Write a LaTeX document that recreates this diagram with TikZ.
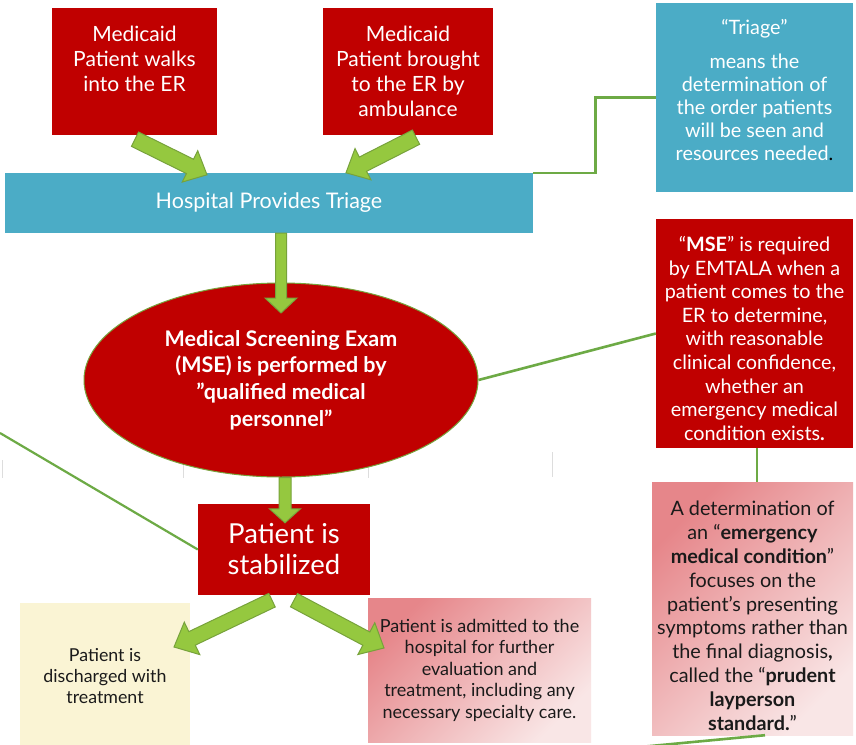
\documentclass[tikz,border=0pt]{standalone}
\usepackage{fontspec}
\setmainfont{Lato}
\usetikzlibrary{calc,shapes.geometric}
\definecolor{cred}{HTML}{C00000}
\definecolor{cblue}{HTML}{4BACC6}
\definecolor{afill}{HTML}{95C83F}
\definecolor{aline}{HTML}{77A23B}
\definecolor{cline}{HTML}{6DAA45}
\definecolor{cyel}{HTML}{FAF4D4}
\definecolor{pinkA}{HTML}{E6868A}
\definecolor{pinkB}{HTML}{F9E6E6}
\definecolor{tickc}{HTML}{DDDDDD}
\definecolor{dtext}{HTML}{1A1A1A}
\newcommand\fatarrow[5]{%
  \coordinate (fa-a) at #1;
  \coordinate (fa-b) at #2;
  \coordinate (fa-h) at ($(fa-b)!#5!(fa-a)$);
  \filldraw[arrowsty] ($(fa-a)!#3!90:(fa-b)$) -- ($(fa-h)!#3!-90:(fa-a)$) -- ($(fa-h)!#4!-90:(fa-a)$) -- (fa-b) -- ($(fa-h)!#4!90:(fa-a)$) -- ($(fa-h)!#3!90:(fa-a)$) -- ($(fa-a)!#3!-90:(fa-b)$) -- cycle;
}
\begin{document}
\begin{tikzpicture}[x=1pt,y=-1pt,
  redbox/.style={fill=cred,text=white,align=center,inner sep=0pt},
  bluebox/.style={fill=cblue,text=white,align=center,inner sep=0pt},
  arrowsty/.style={fill=afill,draw=aline,line width=1pt,line join=miter},
  conn/.style={draw=cline,line width=2.6pt},
  tickline/.style={draw=tickc,line width=0.8pt},
  darktext/.style={text=dtext,align=center,inner sep=0pt}]
\useasboundingbox (0,0) rectangle (856,744);
\fill[white] (0,0) rectangle (856,744);

% faint table ticks
\draw[tickline] (2,460) -- (2,478);
\draw[tickline] (183,460) -- (183,478);
\draw[tickline] (368,462) -- (368,478);
\draw[tickline] (552,452) -- (552,477);

% nodes
\node[redbox,minimum width=165pt,minimum height=127pt,font=\fontsize{21}{25}\selectfont] (w1) at (134.5,71.5)
  {Medicaid\\Patient walks\\into the ER\\\mbox{}};
\node[redbox,minimum width=170pt,minimum height=127pt,font=\fontsize{21}{25}\selectfont] (w2) at (408,71.5)
  {Medicaid\\Patient brought\\to the ER by\\ambulance};
\node[bluebox,minimum width=528pt,minimum height=60pt,font=\fontsize{21.5}{25}\selectfont] (tri) at (269,203)
  {Hospital Provides Triage};
\node[bluebox,minimum width=197pt,minimum height=189pt,font=\fontsize{19.8}{23}\selectfont] (tdef) at (754.5,97.5)
  {“Triage”\\[11pt]means the\\determination of\\the order patients\\will be seen and\\resources needed\textcolor{black}{.}\rule[-16pt]{0pt}{0pt}};
\node[ellipse,fill=cred,draw=aline,line width=1pt,text=white,align=center,inner sep=0pt,
  minimum width=394pt,minimum height=194pt,font=\fontsize{21.5}{26.7}\selectfont\bfseries] (mse) at (281,380)
  {Medical Screening Exam\\(MSE) is performed by\\”qualified medical\\personnel”};
\node[redbox,minimum width=197pt,minimum height=229pt,font=\fontsize{19.8}{23.6}\selectfont] (msebox) at (754.5,333.5)
  {\rule{0pt}{25pt}“\textbf{MSE}” is required\\by EMTALA when a\\patient comes to the\\ER to determine,\\with reasonable\\clinical confidence,\\whether an\\emergency medical\\condition exists\textbf{.}};
\node[redbox,minimum width=172pt,minimum height=91pt,font=\fontsize{27.5}{31}\selectfont] (stab) at (284,549.5)
  {Patient is\\stabilized};
\node[darktext,fill=cyel,minimum width=170pt,minimum height=147pt,font=\fontsize{17.8}{21}\selectfont] (dis) at (105,676.5)
  {Patient is\\discharged with\\treatment};
\node[darktext,top color=pinkA,bottom color=pinkB,shading angle=45,minimum width=223pt,minimum height=144pt,font=\fontsize{18}{21.5}\selectfont] (adm) at (479.5,670)
  {Patient is admitted to the\\hospital for further\\evaluation and\\treatment, including any\\necessary specialty care.};
\node[darktext,top color=pinkA,bottom color=pinkB,shading angle=45,minimum width=201pt,minimum height=253pt,font=\fontsize{19.8}{23.8}\selectfont] (emc) at (752.5,608.5)
  {\rule{0pt}{29pt}A determination of\\an “\textbf{emergency}\\\textbf{medical condition}”\\focuses on the\\patient’s presenting\\symptoms rather than\\the final diagnosis\textbf{,}\\called the “\textbf{prudent}\\\textbf{layperson}\\\textbf{standard.}”};

% thin connectors
\draw[conn] (tri.north east) -- ++(62,0) |- (tdef.west);
\draw[conn] (mse.east) -- (msebox.west);
\coordinate (mb) at ($(msebox.south)+(2.5,0)$);
\draw[conn] (mb) -- (mb |- emc.north);
\coordinate (leftend) at (0,433);
\draw[conn,line width=2.2pt] (leftend) -- (stab.west);
\coordinate (eb) at ($(emc.south)+(12.5,0)$);
\coordinate (outend) at (640,747);
\draw[conn] (eb) -- (outend);

% fat arrows
\coordinate (a1s) at ($(w1.south)+(0.5,4)$);
\coordinate (a1e) at ($(tri.north)+(-62,2)$);
\fatarrow{(a1s)}{(a1e)}{8pt}{17.5pt}{19pt}
\coordinate (a2s) at ($(w2.south)+(8,2)$);
\coordinate (a2e) at ($(tri.north)+(77,0)$);
\fatarrow{(a2s)}{(a2e)}{8pt}{17.5pt}{19pt}
\coordinate (a3s) at (tri.south -| 281,0);
\coordinate (a3e) at (281,313);
\fatarrow{(a3s)}{(a3e)}{5.5pt}{16pt}{15pt}
\coordinate (a4s) at (mse.south -| 285,0);
\coordinate (a4e) at ($(stab.north)+(1,19)$);
\fatarrow{(a4s)}{(a4e)}{6pt}{15.5pt}{14pt}
\coordinate (a5s) at ($(stab.south)+(-12,5)$);
\coordinate (a5e) at (174,647);
\fatarrow{(a5s)}{(a5e)}{7.5pt}{18pt}{20pt}
\coordinate (a6s) at ($(stab.south)+(10,5)$);
\coordinate (a6e) at (384,648);
\fatarrow{(a6s)}{(a6e)}{7.5pt}{18pt}{20pt}
\end{tikzpicture}
\end{document}
